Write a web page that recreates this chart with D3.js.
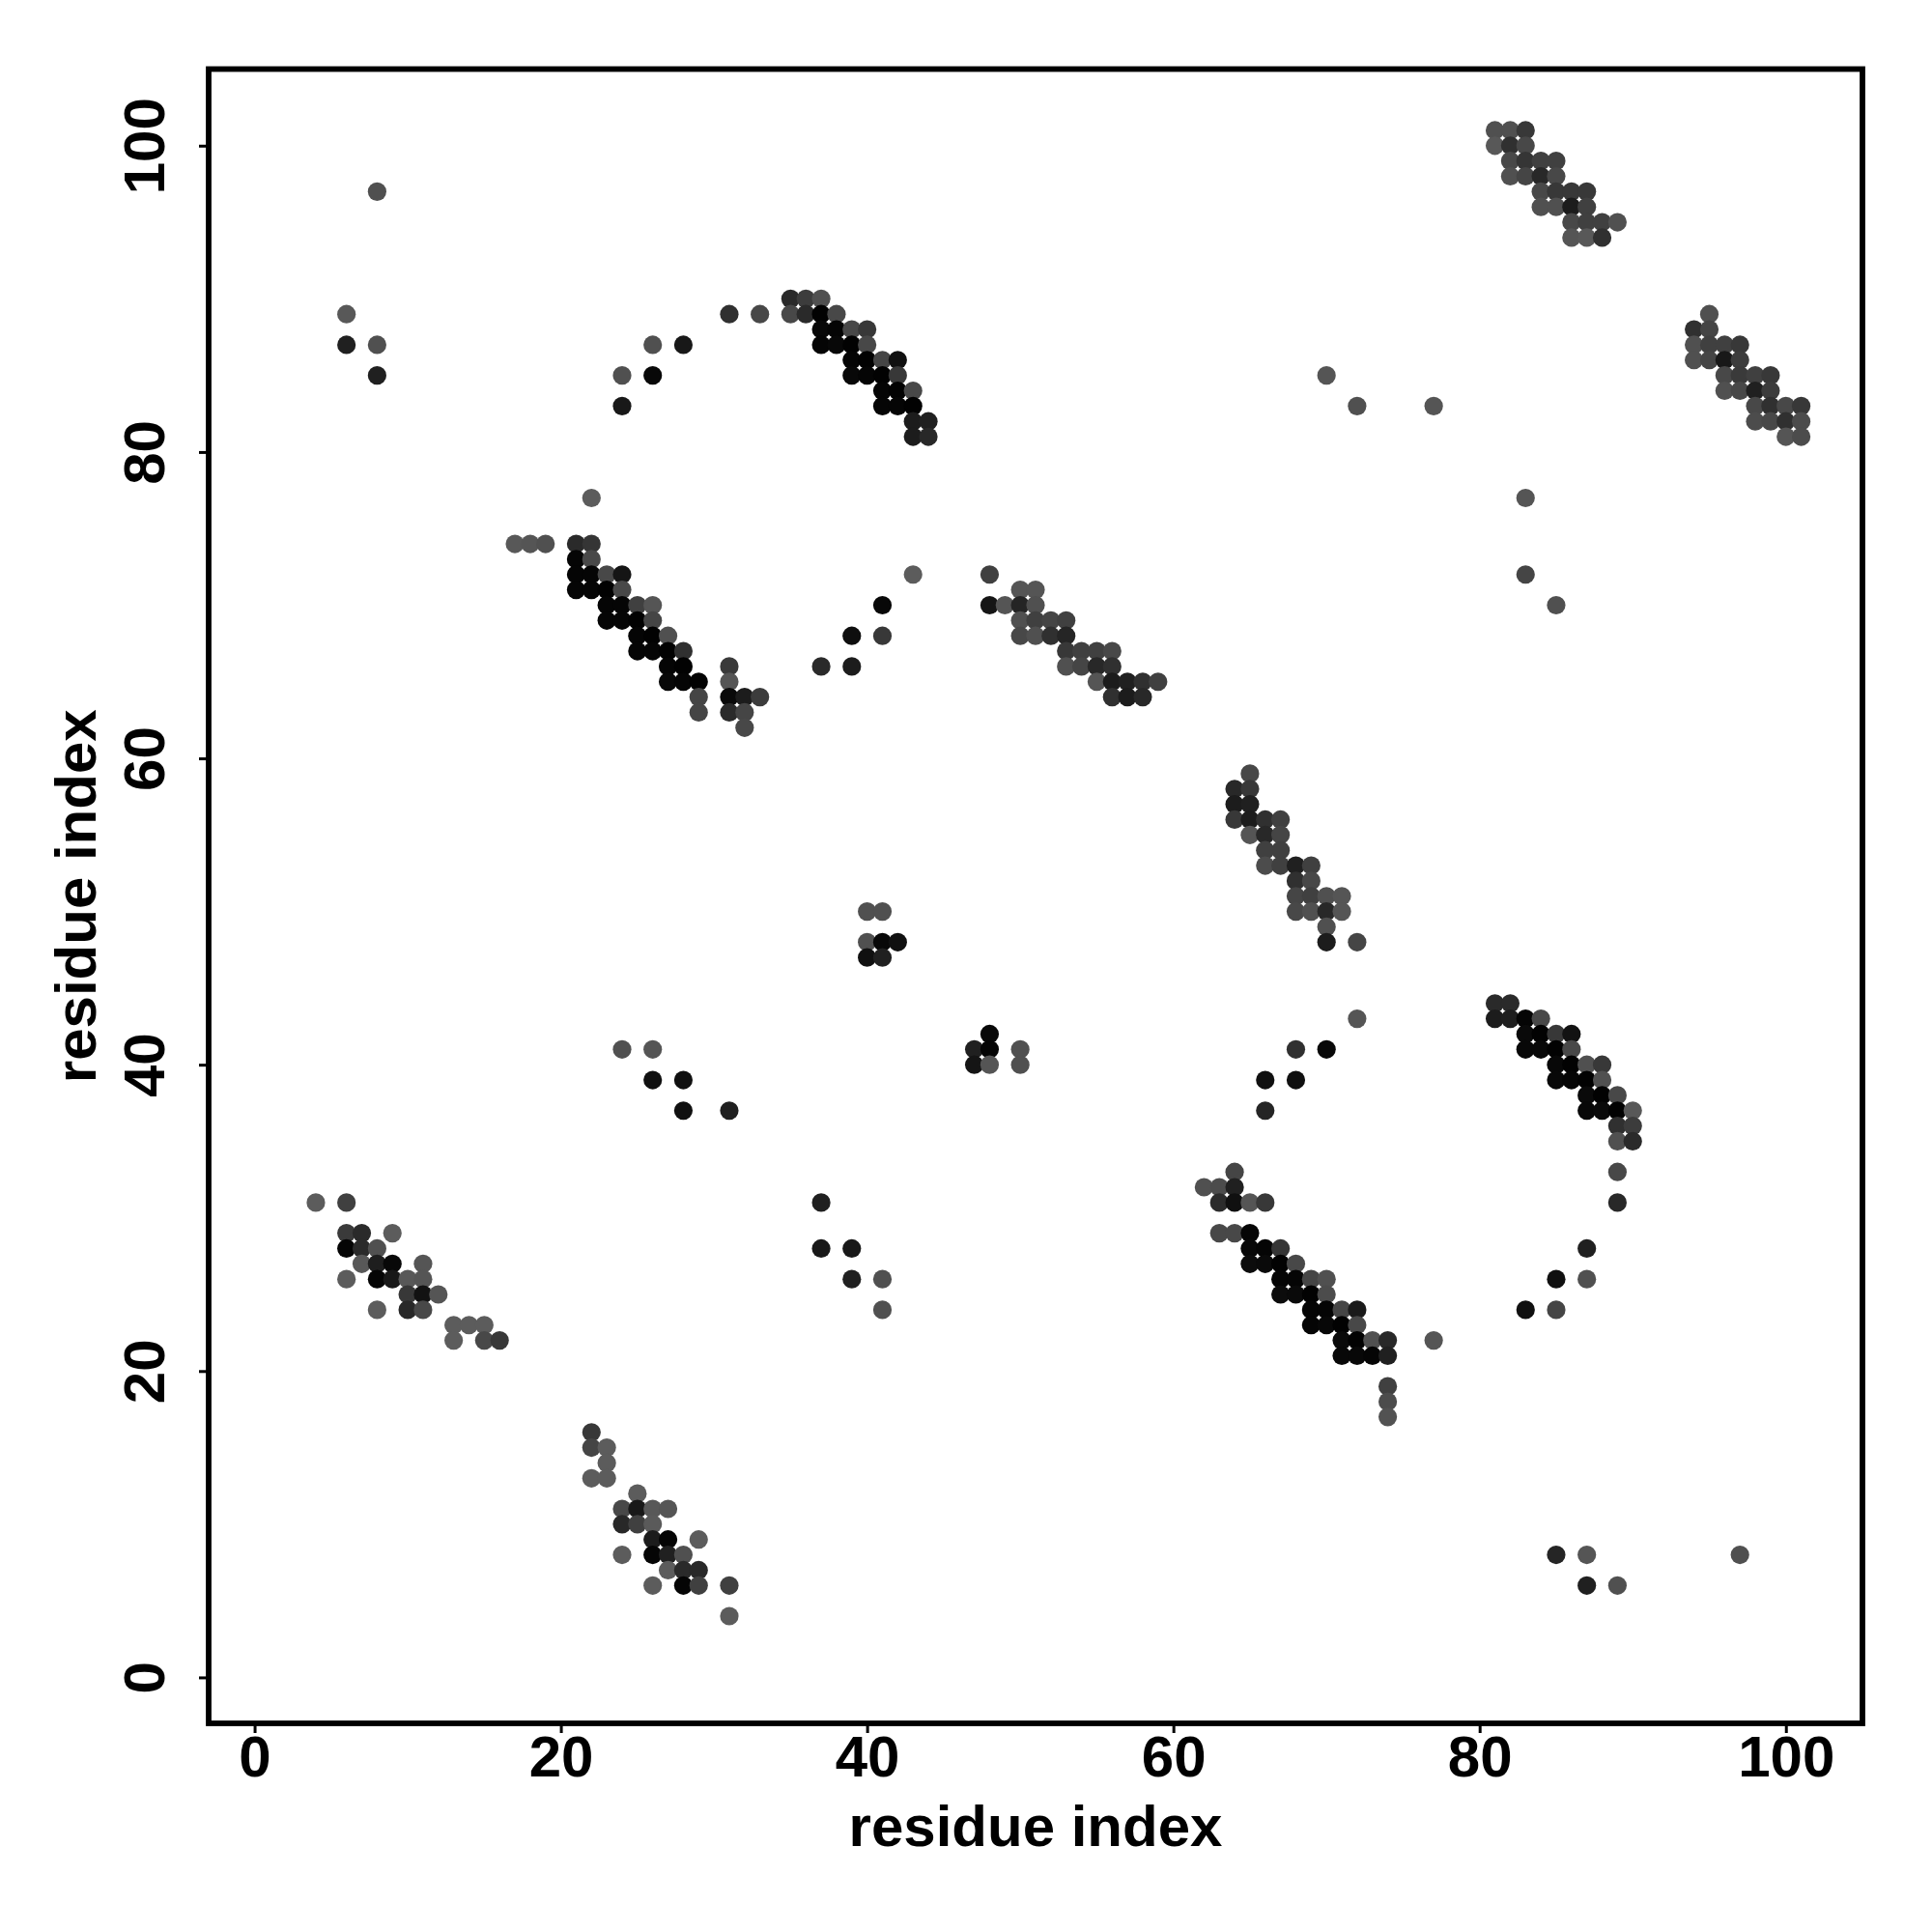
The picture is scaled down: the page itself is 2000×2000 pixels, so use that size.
<!DOCTYPE html>
<html>
<head>
<meta charset="utf-8">
<script src="https://cdnjs.cloudflare.com/ajax/libs/d3/7.8.5/d3.min.js"></script>
<style>html,body{margin:0;padding:0;background:#fff}svg{display:block}</style>
</head>
<body>
<svg id="chart" width="2000" height="2000"></svg>
<script>
const tickValues = [0, 20, 40, 60, 80, 100];
const xLabel = "residue index";
const yLabel = "residue index";
const rowY = [101,100,99,98,97,96,95,94,90,89,88,87,86,85,84,83,82,81,77,74,73,72,71,70,69,68,67,66,65,64,63,62,59,58,57,56,55,54,53,52,51,50,49,48,47,44,43,42,41,40,39,38,37,36,35,33,32,31,29,28,27,26,25,24,23,22,21,19,18,17,16,15,14,13,12,11,10,9,8,7,6,4];
const rowX = [
[81,82,83],[81,82,83],[82,83,84,85],[82,83,84,85],[8,84,85,86,87],[84,85,86,87],[86,87,88,89],[86,87,88],
[35,36,37],[6,31,33,35,36,37,38,95],[37,38,39,40,94,95],[6,8,26,28,37,38,39,40,94,95,96,97],[39,40,41,42,94,95,96,97],
[8,24,26,39,40,41,42,70,96,97,98,99],[41,42,43,96,97,98,99],[24,41,42,43,72,77,98,99,100,101],[43,44,98,99,100,101],[43,44,100,101],
[22,83],[17,18,19,21,22],[21,22],[21,22,23,24,43,48,83],[21,22,23,24,50,51],[23,24,25,26,41,48,49,50,51,85],[23,24,25,26,50,51,52,53],
[25,26,27,39,41,50,51,52,53],[25,26,27,28,53,54,55,56],[27,28,31,37,39,53,54,55,56],[27,28,29,31,55,56,57,58,59],[29,31,32,33,56,57,58],[29,31,32],[32],
[65],[64,65],[64,65],[64,65,66,67],[65,66,67],[66,67],[66,67,68,69],[68,69],[68,69,70,71],[40,41,68,69,70,71],[70],[40,41,42,70,72],[40,41],
[81,82],[72,81,82,83,84],[48,83,84,85,86],[24,26,47,48,50,68,70,83,84,85,86],[47,48,50,85,86,87,88],[26,28,66,68,85,86,87,88],[87,88,89],[28,31,66,87,88,89,90],[89,90],[89,90],
[64,89],[62,63,64],[4,6,37,63,64,65,66,89],[6,7,9,63,64,65],[6,7,8,37,39,65,66,67,87],[7,8,9,11,65,66,67,68],[6,8,9,10,11,39,41,67,68,69,70,85,87],
[10,11,12,67,68,69,70],[8,10,11,41,69,70,71,72,83,85],[13,14,15,69,70,71,72],[13,15,16,71,72,73,74,77],[71,72,73,74],[74],[74],[74],
[22],[22,23],[23],[22,23],[25],[24,25,26,27],[24,25,26],[26,27,29],[24,26,27,28,85,87,97],[27,28,29],[26,28,29,31,87,89],[31]
];
const rowLevel = [
[0x50,0x50,0x38],[0x58,0x30,0x48],[0x48,0x35,0x40,0x40],[0x50,0x45,0x28,0x48],[0x50,0x48,0x38,0x38,0x38],[0x50,0x50,0x1c,0x40],[0x48,0x40,0x40,0x50],[0x55,0x58,0x30],
[0x2a,0x3c,0x50],[0x58,0x30,0x48,0x48,0x2a,0x02,0x48,0x50],[0x08,0x05,0x48,0x38,0x30,0x45],[0x20,0x50,0x50,0x18,0x05,0x08,0x02,0x48,0x50,0x40,0x40,0x38],[0x05,0x02,0x45,0x10,0x50,0x45,0x18,0x3c],
[0x20,0x50,0x08,0x08,0x05,0x02,0x38,0x55,0x48,0x3a,0x40,0x38],[0x05,0x02,0x48,0x50,0x48,0x20,0x3c],[0x18,0x05,0x05,0x02,0x50,0x55,0x48,0x30,0x48,0x38],[0x1c,0x20,0x4c,0x48,0x30,0x4c],[0x1c,0x28,0x55,0x4c],
[0x5c,0x55],[0x58,0x55,0x50,0x2a,0x35],[0x05,0x48],[0x05,0x05,0x48,0x15,0x5c,0x40,0x45],[0x05,0x05,0x02,0x48,0x55,0x55],[0x05,0x05,0x40,0x55,0x08,0x15,0x55,0x25,0x50,0x50],[0x05,0x05,0x02,0x45,0x50,0x40,0x45,0x40],
[0x05,0x02,0x50,0x0e,0x38,0x48,0x50,0x30,0x25],[0x05,0x05,0x02,0x30,0x38,0x40,0x40,0x48],[0x05,0x02,0x3a,0x2a,0x1c,0x50,0x45,0x28,0x30],[0x08,0x05,0x02,0x55,0x55,0x1c,0x20,0x30,0x40],[0x45,0x0a,0x1c,0x3c,0x30,0x1c,0x28],[0x45,0x2a,0x45],[0x48],
[0x48],[0x28,0x38],[0x1c,0x20],[0x38,0x1c,0x30,0x40],[0x55,0x28,0x45],[0x40,0x40],[0x4c,0x40,0x20,0x40],[0x30,0x48],[0x45,0x40,0x50,0x55],[0x50,0x50,0x48,0x50,0x28,0x55],[0x50],[0x50,0x08,0x10,0x1c,0x45],[0x10,0x20],
[0x2a,0x2a],[0x55,0x1c,0x1e,0x05,0x48],[0x08,0x0a,0x02,0x38,0x12],[0x50,0x55,0x20,0x05,0x50,0x30,0x08,0x08,0x08,0x02,0x48],[0x15,0x55,0x50,0x08,0x02,0x50,0x38],[0x10,0x10,0x10,0x10,0x08,0x05,0x02,0x50],[0x0a,0x02,0x48],[0x10,0x20,0x25,0x08,0x0a,0x02,0x58],[0x30,0x3c],[0x50,0x2a],
[0x45,0x48],[0x50,0x4c,0x20],[0x5c,0x40,0x20,0x2c,0x10,0x55,0x38,0x28],[0x3a,0x2a,0x5c,0x48,0x48,0x05],[0x05,0x2a,0x50,0x18,0x18,0x08,0x05,0x35,0x20],[0x58,0x1e,0x08,0x55,0x0c,0x0a,0x02,0x48],[0x5c,0x05,0x18,0x58,0x55,0x20,0x50,0x05,0x05,0x45,0x50,0x10,0x50],
[0x38,0x12,0x55,0x0c,0x0a,0x02,0x4c],[0x5c,0x28,0x48,0x50,0x05,0x05,0x45,0x1a,0x10,0x45],[0x5c,0x5c,0x5c,0x05,0x08,0x02,0x48],[0x5c,0x48,0x38,0x0a,0x02,0x50,0x28,0x55],[0x08,0x08,0x05,0x20],[0x40],[0x4c],[0x52],
[0x38],[0x45,0x5c],[0x5c],[0x5c,0x5c],[0x5c],[0x48,0x18,0x58,0x55],[0x28,0x40,0x5a],[0x1c,0x05,0x5c],[0x5c,0x05,0x20,0x50,0x25,0x55,0x50],[0x5c,0x2a,0x28],[0x5c,0x05,0x40,0x40,0x20,0x50],[0x5c]
];

const contacts = rowY.flatMap((y, i) => rowX[i].map((x, j) => ({x, y, level: rowLevel[i][j]})));

const svg = d3.select("#chart");
const x = d3.scaleLinear().domain([-3, 105]).range([216, 1928]);
const y = d3.scaleLinear().domain([-3, 105]).range([1784, 71.5]);
const shade = d3.scaleLinear().domain([0, 255]).range(["#000000", "#ffffff"]);
const font = "'Liberation Sans', Arial, sans-serif";

svg.append("rect").attr("width", 2000).attr("height", 2000).attr("fill", "#fff");

svg.append("g").selectAll("circle").data(contacts).join("circle")
  .attr("cx", d => x(d.x)).attr("cy", d => y(d.y)).attr("r", 9.6)
  .attr("fill", d => shade(d.level));

const xAxis = svg.append("g").attr("transform", `translate(0,${y.range()[0]})`)
  .call(d3.axisBottom(x).tickValues(tickValues).tickSize(10).tickPadding(3).tickFormat(d3.format("d")));
const yAxis = svg.append("g").attr("transform", `translate(${x.range()[0]},0)`)
  .call(d3.axisLeft(y).tickValues(tickValues).tickSize(10).tickPadding(0).tickFormat(d3.format("d")));
[xAxis, yAxis].forEach(a => {
  a.select(".domain").remove();
  a.selectAll("line").attr("stroke", "#000").attr("stroke-width", 3);
  a.selectAll("text").attr("fill", "#000").attr("font-family", font).attr("font-weight", 700).attr("font-size", 60);
});
xAxis.selectAll("text").attr("dy", null).attr("y", null)
  .attr("transform", null).attr("text-anchor", "middle").attr("y", 55);
yAxis.selectAll("text").attr("dy", null).attr("x", null).attr("text-anchor", "middle")
  .attr("transform", "translate(-46,0) rotate(-90)");

svg.append("rect")
  .attr("x", x.range()[0]).attr("y", y.range()[1])
  .attr("width", x.range()[1] - x.range()[0]).attr("height", y.range()[0] - y.range()[1])
  .attr("fill", "none").attr("stroke", "#000").attr("stroke-width", 5.8);

svg.append("text").text(xLabel)
  .attr("x", (x.range()[0] + x.range()[1]) / 2).attr("y", 1911)
  .attr("text-anchor", "middle").attr("font-family", font).attr("font-weight", 700).attr("font-size", 60);
svg.append("text").text(yLabel)
  .attr("transform", `translate(99,${(y.range()[0] + y.range()[1]) / 2}) rotate(-90)`)
  .attr("text-anchor", "middle").attr("font-family", font).attr("font-weight", 700).attr("font-size", 60);
</script>
</body>
</html>
